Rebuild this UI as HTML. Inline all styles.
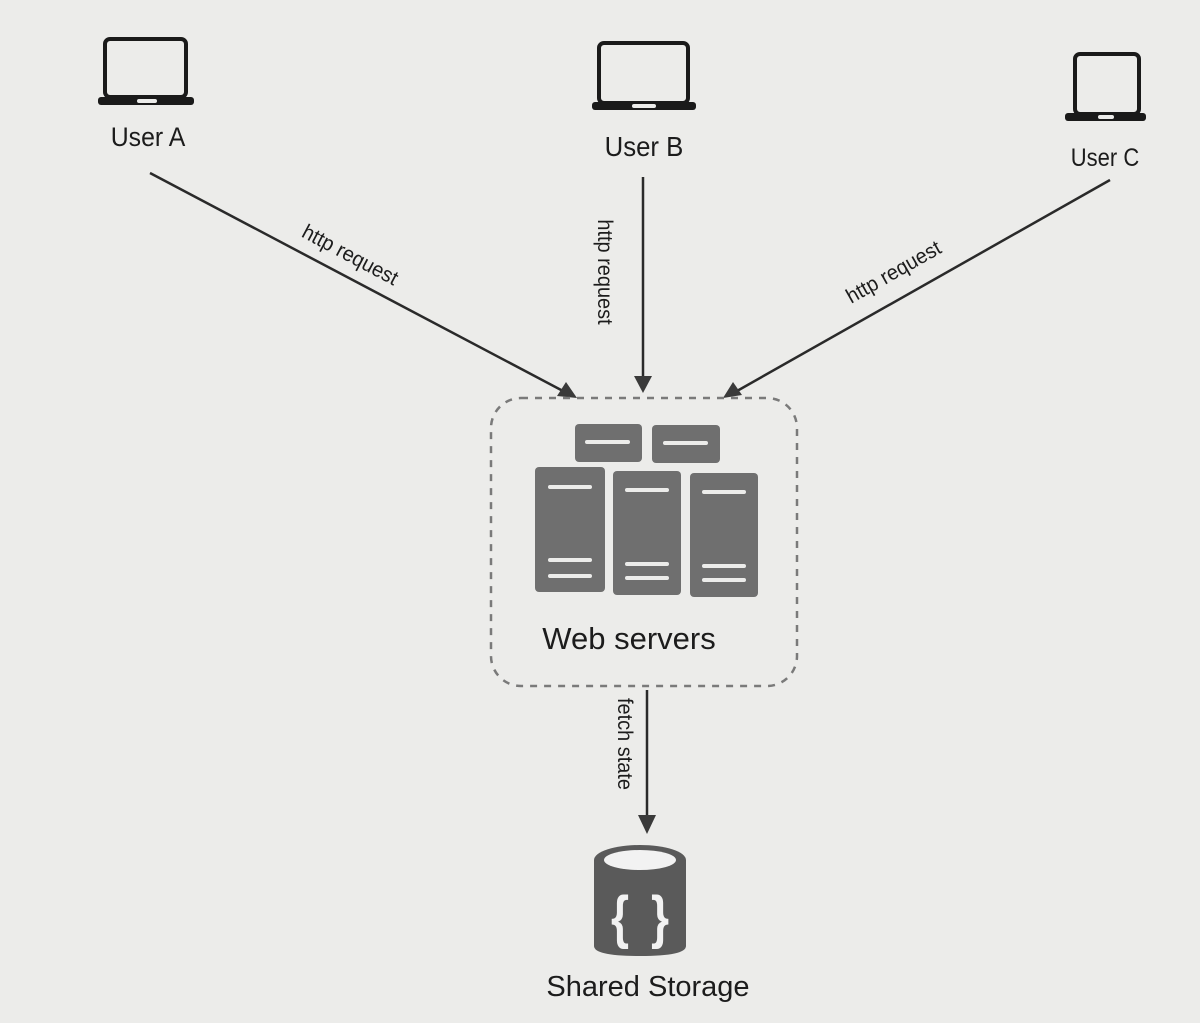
<!DOCTYPE html>
<html><head><meta charset="utf-8"><style>
html,body{margin:0;padding:0;background:#ececea;}
svg{display:block}
text{font-family:"Liberation Sans",sans-serif;fill:#1c1c1c}
</style></head><body>
<svg width="1200" height="1023" viewBox="0 0 1200 1023" xmlns="http://www.w3.org/2000/svg">
<rect width="1200" height="1023" fill="#ececea"/>
<!-- Laptop A -->
<rect x="105" y="39" width="81" height="58" rx="5" fill="none" stroke="#1a1a1a" stroke-width="4"/>
<rect x="98" y="97" width="96" height="8" rx="3" fill="#1a1a1a"/>
<rect x="137" y="99" width="20" height="4" rx="2" fill="#ececea"/>
<text x="148" y="146" font-size="27" text-anchor="middle" transform="translate(148,0) scale(0.92,1) translate(-148,0)">User A</text>
<!-- Laptop B -->
<rect x="599" y="43" width="89" height="60" rx="5" fill="none" stroke="#1a1a1a" stroke-width="4"/>
<rect x="592" y="102" width="104" height="8" rx="3" fill="#1a1a1a"/>
<rect x="632" y="104" width="24" height="4" rx="2" fill="#ececea"/>
<text x="644" y="156" font-size="28" text-anchor="middle" transform="translate(644,0) scale(0.92,1) translate(-644,0)">User B</text>
<!-- Laptop C -->
<rect x="1075" y="54" width="64" height="60" rx="5" fill="none" stroke="#1a1a1a" stroke-width="4"/>
<rect x="1065" y="113" width="81" height="8" rx="3" fill="#1a1a1a"/>
<rect x="1098" y="115" width="16" height="4" rx="2" fill="#ececea"/>
<text x="1105" y="166" font-size="25" text-anchor="middle" transform="translate(1105,0) scale(0.88,1) translate(-1105,0)">User C</text>
<!-- arrows -->
<g stroke="#2a2a2a" stroke-width="2.5" fill="none">
<line x1="150" y1="173" x2="563" y2="391"/>
<line x1="643" y1="177" x2="643" y2="378"/>
<line x1="1110" y1="180" x2="737" y2="391"/>
<line x1="647" y1="690" x2="647" y2="818"/>
</g>
<g fill="#3a3a3a">
<polygon points="577,398 557,396 566,382"/>
<polygon points="643,393 634,376 652,376"/>
<polygon points="723,398 733,382 742,395"/>
<polygon points="647,834 638,815 656,815"/>
</g>
<text font-size="21" text-anchor="middle" transform="translate(347,261) rotate(28) scale(0.95,1)">http request</text>
<text font-size="21" text-anchor="middle" transform="translate(598,272) rotate(90) scale(0.95,1)">http request</text>
<text font-size="21" text-anchor="middle" transform="translate(897,278) rotate(-29.5) scale(0.95,1)">http request</text>
<text font-size="21" text-anchor="middle" transform="translate(618,744) rotate(90) scale(0.95,1)">fetch state</text>
<!-- dashed box -->
<rect x="491" y="398" width="306" height="288" rx="30" fill="none" stroke="#7a7a7a" stroke-width="2.5" stroke-dasharray="7,7"/>
<!-- servers -->
<g fill="#6f6f6f">
<rect x="575" y="424" width="67" height="38" rx="4"/>
<rect x="652" y="425" width="68" height="38" rx="4"/>
<rect x="535" y="467" width="70" height="125" rx="4"/>
<rect x="613" y="471" width="68" height="124" rx="4"/>
<rect x="690" y="473" width="68" height="124" rx="4"/>
</g>
<g fill="#ececea">
<rect x="585" y="440" width="45" height="4" rx="2"/>
<rect x="663" y="441" width="45" height="4" rx="2"/>
<rect x="548" y="485" width="44" height="4" rx="2"/>
<rect x="548" y="558" width="44" height="4" rx="2"/>
<rect x="548" y="574" width="44" height="4" rx="2"/>
<rect x="625" y="488" width="44" height="4" rx="2"/>
<rect x="625" y="562" width="44" height="4" rx="2"/>
<rect x="625" y="576" width="44" height="4" rx="2"/>
<rect x="702" y="490" width="44" height="4" rx="2"/>
<rect x="702" y="564" width="44" height="4" rx="2"/>
<rect x="702" y="578" width="44" height="4" rx="2"/>
</g>
<text x="629" y="649" font-size="31" text-anchor="middle">Web servers</text>
<!-- cylinder -->
<path d="M594,860 L594,946 Q594,956 640,956 Q686,956 686,946 L686,860 Z" fill="#5a5a5a"/>
<ellipse cx="640" cy="860" rx="46" ry="15" fill="#5a5a5a"/>
<ellipse cx="640" cy="860" rx="36" ry="10" fill="#f2f2f2"/>
<text x="620" y="937" font-size="58" font-weight="bold" text-anchor="middle" style="fill:#f2f2f2" transform="translate(620,0) scale(0.8,1) translate(-620,0)">{</text>
<text x="660" y="937" font-size="58" font-weight="bold" text-anchor="middle" style="fill:#f2f2f2" transform="translate(660,0) scale(0.8,1) translate(-660,0)">}</text>
<text x="648" y="996" font-size="29" text-anchor="middle">Shared Storage</text>
</svg>
</body></html>
